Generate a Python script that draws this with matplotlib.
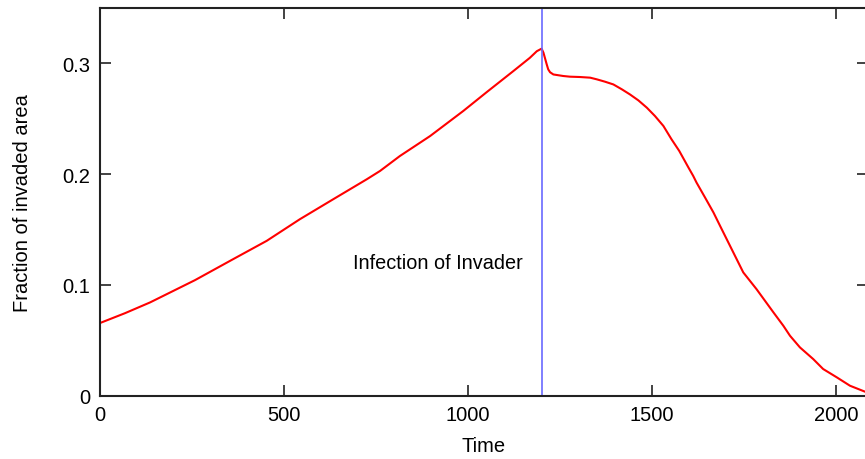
import matplotlib
matplotlib.use('Agg')
import matplotlib.pyplot as plt
import numpy as np

# values
time = [0, 68, 136, 258, 362, 453, 543, 634, 725, 761, 815, 897, 987, 1051, 1123,
        1168, 1187, 1200, 1205, 1214, 1218, 1223, 1232, 1259, 1277, 1304, 1332,
        1350, 1372, 1395, 1418, 1440, 1463, 1486, 1508, 1531, 1553, 1574, 1599,
        1612, 1621, 1644, 1667, 1685, 1712, 1730, 1748, 1784, 1830, 1857, 1875,
        1902, 1938, 1965, 2002, 2038, 2079]
frac = [0.0656, 0.0745, 0.0842, 0.1043, 0.1233, 0.1398, 0.1593, 0.1774, 0.1954, 0.2029,
        0.2164, 0.2344, 0.2570, 0.2741, 0.2930,
        0.3050, 0.3110, 0.3133, 0.3097, 0.2990, 0.2946, 0.2920, 0.2900, 0.2886, 0.2880,
        0.2877, 0.2871,
        0.2856, 0.2835, 0.2810, 0.2766, 0.2720, 0.2666, 0.2600, 0.2525, 0.2435, 0.2315,
        0.2210, 0.2060,
        0.1984, 0.1924, 0.1790, 0.1654, 0.1533, 0.1353, 0.1233, 0.1113, 0.0962, 0.0752,
        0.0631, 0.0541,
        0.0436, 0.0331, 0.0241, 0.0166, 0.0090, 0.0036]
infection_time = 1200
xticks = [0, 500, 1000, 1500, 2000]
yticks = [0, 0.1, 0.2, 0.3]

plt.rcParams['font.family'] = ['Liberation Sans', 'DejaVu Sans']

fig = plt.figure(figsize=(8.65, 4.6), dpi=100)
ax = fig.add_axes([100/865, (460-396.7)/460, 768/865, (396.7-9)/460])

ax.plot(time, frac, color='#ff0000', lw=1.5)
ax.axvline(infection_time, color='#6a6aff', lw=1.2)
ax.text(1149, 0.12, 'Infection of Invader', ha='right', va='center', fontsize=14.3)

ax.set_xlim(0, 768/0.368)
ax.set_ylim(0, 0.35)
ax.set_xticks(xticks)
ax.set_xticklabels([str(t) for t in xticks])
ax.set_yticks(yticks)
ax.set_yticklabels(['0', '0.1', '0.2', '0.3'])
ax.tick_params(direction='in', length=8, width=1.2, labelsize=14.5,
               top=True, right=True, pad=7, colors='#222222', labelcolor='black')
for s in ax.spines.values():
    s.set_linewidth(1.5)
    s.set_color('#222222')

ax.set_xlabel('Time', fontsize=14.5, labelpad=8)
ax.set_ylabel('Fraction of invaded area', fontsize=14.5, labelpad=22)

fig.savefig('out.png', dpi=100)
